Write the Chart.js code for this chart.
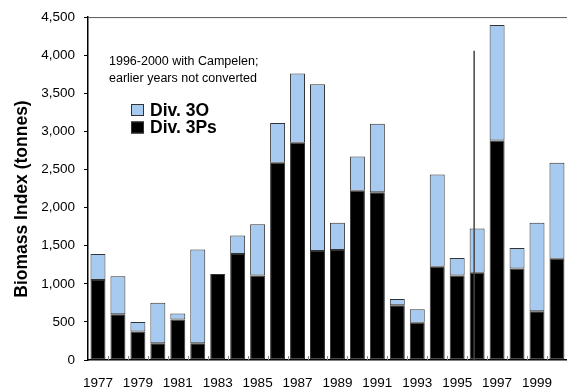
<!DOCTYPE html>
<html>
<head>
<meta charset="utf-8">
<script src="https://cdn.jsdelivr.net/npm/chart.js@4/dist/chart.umd.min.js"></script>
<style>
  html, body { margin: 0; padding: 0; background: #fff; overflow: hidden; }
</style>
</head>
<body>
<canvas id="biomassChart" width="572" height="390"></canvas>
<script>
// survey years
const years = ['1977', '1978', '1979', '1980', '1981', '1982', '1983', '1984',
  '1985', '1986', '1987', '1988', '1989', '1990', '1991', '1992', '1993',
  '1994', '1995', '1996', '1997', '1998', '1999', '2000'];

// biomass index (tonnes) by division
const div3Ps = [1050, 600, 375, 220, 530, 220, 1130, 1390, 1110, 2590, 2850, 1430,
  1445, 2220, 2200, 720, 490, 1225, 1110, 1145, 2880, 1200, 640, 1330];
const div3O = [340, 500, 125, 530, 80, 1230, 0, 245, 670, 520, 910, 2190,
  355, 450, 900, 80, 175, 1210, 230, 580, 1515, 270, 1160, 1260];

const yTicks = [0, 500, 1000, 1500, 2000, 2500, 3000, 3500, 4000, 4500];
const yTitle = 'Biomass Index (tonnes)';
const noteLines = ['1996-2000 with Campelen;', 'earlier years not converted'];

// gear change marker: position on the category axis and height
const gearChangeAt = 18.85;
const gearChangeTop = 4060;

const FONT = '"Liberation Sans", Arial, sans-serif';

// frame top, inward x ticks, gear-change line, axis title, note and legend
const extras = {
  id: 'extras',
  afterDatasetsDraw(chart) {
    const { ctx, chartArea: a, scales: { x, y } } = chart;
    ctx.save();
    // top frame line
    ctx.strokeStyle = '#555';
    ctx.lineWidth = 1;
    ctx.beginPath();
    ctx.moveTo(a.left, a.top + 0.5);
    ctx.lineTo(a.right, a.top + 0.5);
    ctx.stroke();
    // small tick marks between categories, pointing up
    const step = x.getPixelForValue(1) - x.getPixelForValue(0);
    ctx.strokeStyle = '#888';
    for (let i = 1; i < years.length; i++) {
      const px = Math.round(x.getPixelForValue(i) - step / 2) + 0.5;
      ctx.beginPath();
      ctx.moveTo(px, a.bottom);
      ctx.lineTo(px, a.bottom - 4);
      ctx.stroke();
    }
    // vertical line marking the change to Campelen
    const lx = x.getPixelForValue(0) + gearChangeAt * step;
    ctx.strokeStyle = '#444';
    ctx.lineWidth = 1.5;
    ctx.beginPath();
    ctx.moveTo(lx, y.getPixelForValue(gearChangeTop));
    ctx.lineTo(lx, y.getPixelForValue(0));
    ctx.stroke();
    // y axis title
    ctx.fillStyle = '#000';
    ctx.save();
    ctx.translate(22, 199);
    ctx.rotate(-Math.PI / 2);
    ctx.font = 'bold 17.5px ' + FONT;
    ctx.textAlign = 'center';
    ctx.textBaseline = 'middle';
    ctx.fillText(yTitle, 0, 0);
    ctx.restore();
    // note
    ctx.font = '12.5px ' + FONT;
    ctx.textBaseline = 'middle';
    ctx.textAlign = 'left';
    ctx.fillText(noteLines[0], 109, 62);
    ctx.fillText(noteLines[1], 109, 79);
    // legend: top of stack first
    const items = [chart.data.datasets[1], chart.data.datasets[0]];
    items.forEach((ds, i) => {
      const cy = 110 + i * 17.5;
      ctx.fillStyle = ds.backgroundColor;
      ctx.fillRect(131, cy - 6, 13, 12);
      ctx.strokeStyle = '#333';
      ctx.lineWidth = 1;
      ctx.strokeRect(131.5, cy - 5.5, 12, 11);
      ctx.fillStyle = '#000';
      ctx.font = 'bold 17.5px ' + FONT;
      ctx.fillText(ds.label, 150, cy + 1);
    });
    ctx.restore();
  }
};

new Chart(document.getElementById('biomassChart'), {
  type: 'bar',
  data: {
    labels: years,
    datasets: [{
      label: 'Div. 3Ps',
      data: div3Ps,
      backgroundColor: '#000000',
      borderColor: '#333333',
      borderWidth: 1,
      borderSkipped: false,
      barPercentage: 0.75,
      categoryPercentage: 1
    }, {
      label: 'Div. 3O',
      data: div3O,
      backgroundColor: '#A6CAF0',
      borderColor: '#333333',
      borderWidth: 1,
      borderSkipped: false,
      barPercentage: 0.75,
      categoryPercentage: 1
    }]
  },
  options: {
    responsive: false,
    animation: false,
    layout: { padding: { left: 2, top: 11, right: 2, bottom: 0 } },
    plugins: { legend: { display: false }, tooltip: { enabled: false } },
    scales: {
      x: {
        stacked: true,
        grid: { display: false, drawTicks: false },
        border: { display: true, color: '#000', width: 1.5 },
        ticks: {
          autoSkip: false,
          maxRotation: 0,
          padding: 15,
          color: '#000',
          font: { family: FONT, size: 13.5 },
          callback: (v, i) => (i % 2 === 0 ? years[i] : '')
        },
        afterFit: s => { s.height = 30; }
      },
      y: {
        stacked: true,
        min: 0,
        max: 4500,
        afterBuildTicks: s => { s.ticks = yTicks.map(v => ({ value: v })); },
        grid: { display: true, drawOnChartArea: false, tickLength: 4, color: '#000' },
        border: { display: true, color: '#000', width: 1.5 },
        ticks: {
          padding: 9,
          color: '#000',
          font: { family: FONT, size: 13.5 },
          callback: v => v.toLocaleString('en-US')
        },
        afterFit: s => { s.width = 86; }
      }
    }
  },
  plugins: [extras]
});
</script>
</body>
</html>
